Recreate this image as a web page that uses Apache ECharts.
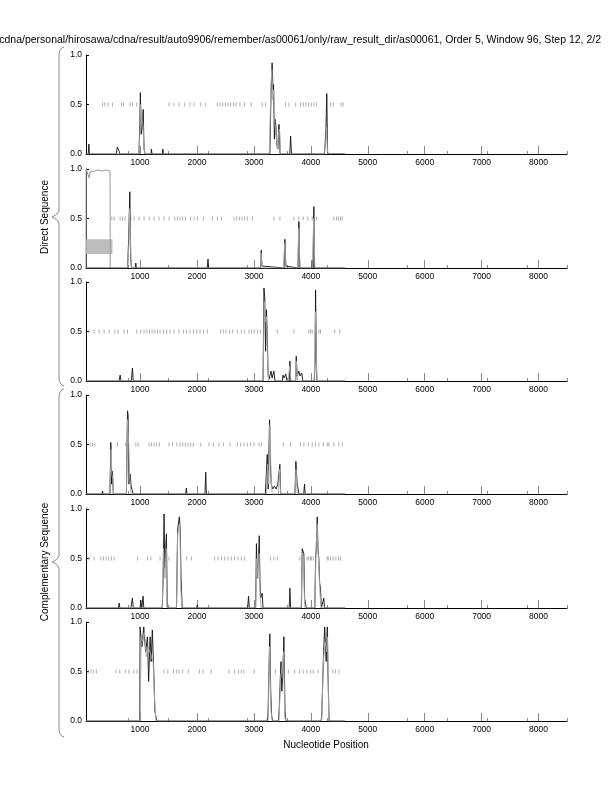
<!DOCTYPE html>
<html>
<head>
<meta charset="utf-8">
<script src="https://cdn.jsdelivr.net/npm/echarts@6/dist/echarts.min.js"></script>
<style>
html,body{margin:0;padding:0;background:#fff;}
#chart{width:612px;height:792px;}
</style>
</head>
<body>
<div id="chart"></div>
<script>
// ---------- data ----------
const titleText = "cdna/personal/hirosawa/cdna/result/auto9906/remember/as00061/only/raw_result_dir/as00061, Order 5, Window 96, Step 12, 2/2";
const xAxisTitle = "Nucleotide Position";
const groupLabels = ["Direct Sequence", "Complementary Sequence"];
const xTickValues = [1000, 2000, 3000, 4000, 5000, 6000, 7000, 8000];
const xMinorTicks = [790, 1490, 2190, 2890, 3590, 4290, 5690, 6390, 7095, 7797, 8500];
const yTickValues = [0, 0.5, 1.0];
const xRange = [50, 8500];

// panel 1 (direct, frame 1)
const p1Black = [[50,0],[90,0],[100,0.1],[110,0],[580,0],[600,0.07],[615,0.08],[630,0.03],[645,0],[980,0],[995,0.3],[1005,0.62],[1020,0.2],[1040,0.28],[1055,0.45],[1070,0.05],[1090,0],[1190,0],[1200,0.05],[1210,0],[1390,0],[1400,0.05],[1410,0],[3280,0],[3300,0.6],[3320,0.92],[3335,0.65],[3345,0.7],[3360,0.15],[3375,0.35],[3390,0.25],[3400,0.1],[3420,0.05],[3440,0.3],[3450,0.2],[3460,0],[3630,0],[3645,0.18],[3660,0],[4240,0],[4265,0.25],[4280,0.61],[4295,0],[4600,0]];
const p1Gray = [[50,0],[980,0],[1000,0.25],[1010,0.5],[1030,0.35],[1050,0.3],[1065,0.1],[1080,0],[3270,0],[3300,0.7],[3315,0.85],[3330,0.55],[3350,0.65],[3370,0.3],[3390,0.2],[3410,0.05],[3430,0.2],[3450,0.25],[3470,0],[4230,0],[4260,0.1],[4275,0.27],[4290,0.05],[4300,0]];
const p1Marks = [340,381,439,515,673,708,825,866,942,1509,1596,1684,1784,1877,1947,2065,2153,2357,2404,2451,2498,2544,2591,2639,2684,2754,2837,2954,3147,3205,3556,3614,3732,3819,3866,3912,3960,4007,4053,4100,4346,4393,4533,4568];

// panel 2 (direct, frame 2)
const p2Black = [[50,0],[780,0],[800,0.3],[820,0.77],[835,0.1],[850,0],[915,0],[925,0.05],[935,0],[2180,0],[2193,0.09],[2205,0],[3115,0],[3129,0.18],[3140,0.02],[3150,0],[3530,0],[3544,0.29],[3560,0.02],[3570,0],[3775,0],[3790,0.47],[3805,0],[4020,0],[4030,0.08],[4040,0],[4045,0.3],[4053,0.62],[4065,0],[4600,0]];
const p2Gray = [[50,0],[780,0],[805,0.25],[818,0.6],[830,0.3],[845,0],[3110,0],[3125,0.15],[3145,0],[3520,0],[3540,0.25],[3565,0],[3770,0],[3788,0.4],[3810,0],[4030,0],[4050,0.5],[4070,0],[4600,0]];
const p2Plateau = [[50,0],[52,1.0],[80,0.98],[105,0.91],[120,0.97],[140,0.99],[200,0.98],[260,0.99],[330,0.98],[400,0.99],[472,0.98],[476,0]];
const p2Box = [[0,0.14],[515,0.29]];
const p2Marks = [503,544,649,691,737,837,895,982,1070,1158,1246,1333,1421,1509,1609,1656,1702,1749,1796,1889,1947,2007,2112,2270,2358,2428,2649,2696,2744,2789,2837,2884,2972,3351,3456,3702,3789,3866,3947,4024,4100,4404,4451,4486,4521,4551];

// panel 3 (direct, frame 3)
const p3Black = [[50,0],[630,0],[650,0.06],[665,0],[845,0],[866,0.13],[880,0],[3160,0],[3176,0.94],[3190,0.85],[3205,0.3],[3220,0.72],[3235,0.45],[3250,0.05],[3270,0.02],[3300,0.1],[3320,0.03],[3350,0.1],[3370,0],[3500,0],[3510,0.06],[3530,0.03],[3560,0.07],[3580,0],[3620,0],[3632,0.2],[3645,0],[3735,0],[3743,0.25],[3760,0.05],[3790,0.1],[3810,0.05],[3840,0.08],[3860,0],[4060,0],[4075,0.2],[4083,0.92],[4095,0.3],[4105,0],[4600,0]];
const p3Gray = [[50,0],[3160,0],[3180,0.8],[3200,0.6],[3220,0.65],[3240,0.2],[3260,0],[3600,0],[3630,0.15],[3650,0],[3730,0],[3745,0.2],[3770,0],[4060,0],[4080,0.7],[4090,0.5],[4100,0.1],[4110,0],[4600,0]];
const p3Marks = [105,193,281,368,456,556,614,719,779,942,1012,1070,1118,1164,1211,1258,1305,1351,1411,1468,1526,1596,1684,1761,1819,1877,1936,1995,2053,2112,2182,2416,2463,2509,2568,2626,2709,2779,2837,2912,2960,3007,3065,3118,3410,3702,3965,3995,4024,4140,4170,4421,4509];

// panel 4 (complementary, frame 1)
const p4Black = [[50,0],[330,0],[340,0.03],[350,0],[470,0],[486,0.52],[500,0.1],[515,0.23],[530,0],[640,0],[649,0.02],[660,0],[760,0],[779,0.84],[790,0.8],[805,0.1],[825,0.2],[845,0.07],[866,0.05],[880,0],[1800,0],[1813,0.06],[1825,0],[2140,0],[2153,0.22],[2165,0],[3200,0],[3234,0.4],[3250,0.05],[3275,0.75],[3290,0.3],[3304,0.1],[3330,0.05],[3360,0.08],[3390,0.05],[3420,0.1],[3456,0.3],[3470,0],[3720,0],[3737,0.33],[3760,0.1],[3777,0.05],[3790,0],[3875,0],[3889,0.1],[3900,0],[4600,0]];
const p4Gray = [[50,0],[470,0],[490,0.45],[505,0.2],[520,0.15],[535,0],[760,0],[780,0.75],[800,0.5],[820,0.15],[840,0],[3220,0],[3240,0.3],[3260,0.1],[3280,0.7],[3300,0.2],[3320,0],[3430,0],[3450,0.25],[3470,0],[3720,0],[3740,0.25],[3760,0],[4600,0]];
const p4Marks = [123,164,205,603,749,925,965,1158,1199,1246,1293,1340,1509,1568,1644,1702,1749,1796,1842,1889,1936,2065,2211,2288,2386,2463,2579,2709,2767,2825,2884,2942,3000,3088,3129,3515,3644,3819,3877,3954,4024,4083,4140,4218,4288,4316,4404,4491,4551];

// panel 5 (complementary, frame 2)
const p5Black = [[50,0],[620,0],[632,0.05],[645,0],[840,0],[850,0.05],[866,0.1],[880,0],[1000,0],[1012,0.08],[1030,0],[1053,0.12],[1065,0],[1390,0],[1405,0.3],[1421,0.95],[1435,0.4],[1450,0.6],[1463,0.75],[1478,0],[1640,0],[1660,0.8],[1675,0.78],[1690,0.92],[1705,0.8],[1720,0.3],[1740,0],[1995,0],[2005,0.03],[2015,0],[2890,0],[2905,0.12],[2920,0],[3030,0],[3044,0.65],[3060,0.3],[3077,0.45],[3094,0.73],[3105,0.3],[3117,0.1],[3146,0.15],[3160,0],[3620,0],[3632,0.2],[3645,0],[3835,0],[3848,0.6],[3860,0.58],[3877,0.55],[3890,0.1],[3906,0.05],[3920,0],[4070,0],[4083,0.5],[4095,0.6],[4112,0.92],[4125,0.6],[4140,0.5],[4155,0.25],[4170,0.2],[4185,0],[4215,0],[4228,0.1],[4240,0],[4600,0]];
const p5Gray = [[50,0],[1390,0],[1410,0.6],[1425,0.4],[1440,0.3],[1460,0.6],[1475,0],[1640,0],[1660,0.75],[1680,0.8],[1700,0.85],[1715,0.2],[1735,0],[3030,0],[3050,0.5],[3070,0.3],[3090,0.55],[3110,0.1],[3130,0],[3830,0],[3850,0.55],[3870,0.5],[3890,0.05],[3900,0],[4070,0],[4090,0.55],[4110,0.85],[4130,0.55],[4160,0.15],[4180,0],[4600,0]];
const p5Marks = [105,193,310,357,404,451,498,544,954,1129,1188,1351,1509,1819,1901,2310,2369,2428,2486,2544,2603,2661,2720,2779,2837,3293,3351,3410,3807,3936,3965,3995,4007,4042,4287,4305,4345,4392,4439,4486,4521];

// panel 6 (complementary, frame 3)
const p6Black = [[50,0],[995,0],[1000,0.95],[1033,0.75],[1065,0.95],[1098,0.7],[1130,0.85],[1150,0.4],[1176,0.85],[1195,0.6],[1215,0.92],[1241,0.5],[1260,0.1],[1293,0],[2160,0],[2172,0.02],[2185,0],[3230,0],[3247,0.05],[3279,0.88],[3295,0.3],[3312,0.05],[3330,0],[3430,0],[3442,0.1],[3475,0.6],[3490,0.3],[3507,0.45],[3527,0.85],[3546,0.1],[3560,0],[4180,0],[4191,0.05],[4224,0.7],[4243,0.95],[4269,0.6],[4289,0.95],[4300,0.5],[4321,0],[4600,0]];
const p6Gray = [[50,0],[1000,0],[1020,0.85],[1050,0.8],[1080,0.9],[1110,0.65],[1140,0.75],[1170,0.7],[1200,0.65],[1230,0.6],[1255,0.2],[1280,0],[3250,0],[3275,0.75],[3300,0.1],[3320,0],[3440,0],[3470,0.45],[3500,0.55],[3525,0.7],[3540,0.05],[3560,0],[4190,0],[4220,0.6],[4250,0.8],[4275,0.7],[4295,0.85],[4315,0],[4600,0]];
const p6Marks = [88,140,186,232,577,642,740,805,889,948,1423,1488,1586,1638,1684,1749,1847,2042,2107,2250,2563,2660,2726,2778,2823,3006,3377,3605,3715,3800,3865,3930,3996,4041,4126,4387,4432,4497];

const panels = [
  {black: p1Black, gray: p1Gray, marks: p1Marks},
  {black: p2Black, gray: p2Gray, marks: p2Marks, plateau: p2Plateau, box: p2Box},
  {black: p3Black, gray: p3Gray, marks: p3Marks},
  {black: p4Black, gray: p4Gray, marks: p4Marks},
  {black: p5Black, gray: p5Gray, marks: p5Marks},
  {black: p6Black, gray: p6Gray, marks: p6Marks}
];

// ---------- layout ----------
const FONT = "'Liberation Sans', Arial, Helvetica, sans-serif";
const gridTops = [55, 169, 282, 395, 509, 622];
const gridLeft = 86, gridWidth = 481, gridHeight = 99;

const grid = [], xAxis = [], yAxis = [], series = [];
panels.forEach((p, i) => {
  grid.push({left: gridLeft, top: gridTops[i], width: gridWidth, height: gridHeight});
  xAxis.push({
    gridIndex: i, type: 'value', min: xRange[0], max: xRange[1],
    axisLine: {show: true, onZero: false, lineStyle: {color: '#000', width: 1}},
    axisTick: {show: true, inside: true, length: 8, customValues: xTickValues, lineStyle: {color: '#888'}},
    axisLabel: {show: true, customValues: xTickValues, fontSize: 8.5, color: '#000', fontFamily: FONT, margin: 4,
      formatter: v => String(Math.round(v))},
    splitLine: {show: false}
  });
  xAxis.push({
    gridIndex: i, type: 'value', min: xRange[0], max: xRange[1], position: 'bottom',
    axisLine: {show: false, onZero: false},
    axisTick: {show: true, inside: true, length: 3, customValues: xMinorTicks, lineStyle: {color: '#888'}},
    axisLabel: {show: false},
    splitLine: {show: false}
  });
  yAxis.push({
    gridIndex: i, type: 'value', min: 0, max: 1, interval: 0.5,
    axisLine: {show: true, lineStyle: {color: '#000', width: 1}},
    axisTick: {show: true, inside: true, length: 3, lineStyle: {color: '#000'}},
    axisLabel: {fontSize: 8.5, color: '#000', fontFamily: FONT, margin: 4, formatter: v => v.toFixed(1)},
    splitLine: {show: false}
  });
  const xi = i * 2;
  if (p.plateau) {
    series.push({
      type: 'line', xAxisIndex: xi, yAxisIndex: i, data: p.plateau, showSymbol: false,
      lineStyle: {color: '#999', width: 1}, animation: false, z: 1,
      markArea: {silent: true, itemStyle: {color: '#bdbdbd'},
        data: [[{coord: p.box[0]}, {coord: p.box[1]}]]}
    });
  }
  series.push({
    type: 'scatter', xAxisIndex: xi, yAxisIndex: i,
    data: p.marks.map(x => [x, 0.5]),
    symbol: 'rect', symbolSize: [1, 4], itemStyle: {color: '#9a9a9a'}, animation: false, z: 2
  });
  series.push({
    type: 'line', xAxisIndex: xi, yAxisIndex: i, data: p.black, showSymbol: false,
    lineStyle: {color: '#111', width: 0.9}, animation: false, z: 3
  });
  series.push({
    type: 'line', xAxisIndex: xi, yAxisIndex: i, data: p.gray, showSymbol: false,
    lineStyle: {color: '#a8a8a8', width: 0.9}, animation: false, z: 4
  });
});

const braceStyle = {stroke: '#888', fill: null, lineWidth: 1};
function brace(top, mid, bottom) {
  const xr = 64, xv = 59, xp = 52;
  return [
    {type: 'bezierCurve', shape: {x1: xr, y1: top, x2: xv, y2: top + 9, cpx1: xv, cpy1: top + 1}, style: braceStyle},
    {type: 'line', shape: {x1: xv, y1: top + 9, x2: xv, y2: mid - 7}, style: braceStyle},
    {type: 'bezierCurve', shape: {x1: xv, y1: mid - 7, x2: xp, y2: mid, cpx1: xv, cpy1: mid - 3}, style: braceStyle},
    {type: 'bezierCurve', shape: {x1: xp, y1: mid, x2: xv, y2: mid + 7, cpx1: xv, cpy1: mid + 3}, style: braceStyle},
    {type: 'line', shape: {x1: xv, y1: mid + 7, x2: xv, y2: bottom - 9}, style: braceStyle},
    {type: 'bezierCurve', shape: {x1: xv, y1: bottom - 9, x2: xr, y2: bottom, cpx1: xv, cpy1: bottom - 1}, style: braceStyle}
  ];
}

const graphic = [
  {type: 'text', x: 601, y: 40, style: {text: titleText, font: `10.5px ${FONT}`, fill: '#000', textAlign: 'right', textVerticalAlign: 'middle'}},
  ...brace(47, 217, 386),
  ...brace(389, 562, 737),
  {type: 'text', x: 45, y: 217, rotation: Math.PI / 2,
    style: {text: groupLabels[0], font: `10px ${FONT}`, fill: '#000', textAlign: 'center', textVerticalAlign: 'middle'}},
  {type: 'text', x: 45, y: 562, rotation: Math.PI / 2,
    style: {text: groupLabels[1], font: `10px ${FONT}`, fill: '#000', textAlign: 'center', textVerticalAlign: 'middle'}},
  {type: 'text', x: 326, y: 745,
    style: {text: xAxisTitle, font: `10px ${FONT}`, fill: '#000', textAlign: 'center', textVerticalAlign: 'middle'}}
];

const chart = echarts.init(document.getElementById('chart'), null, {renderer: 'canvas'});
chart.setOption({
  backgroundColor: '#fff',
  animation: false,
  grid, xAxis, yAxis, series, graphic
});
</script>
</body>
</html>
